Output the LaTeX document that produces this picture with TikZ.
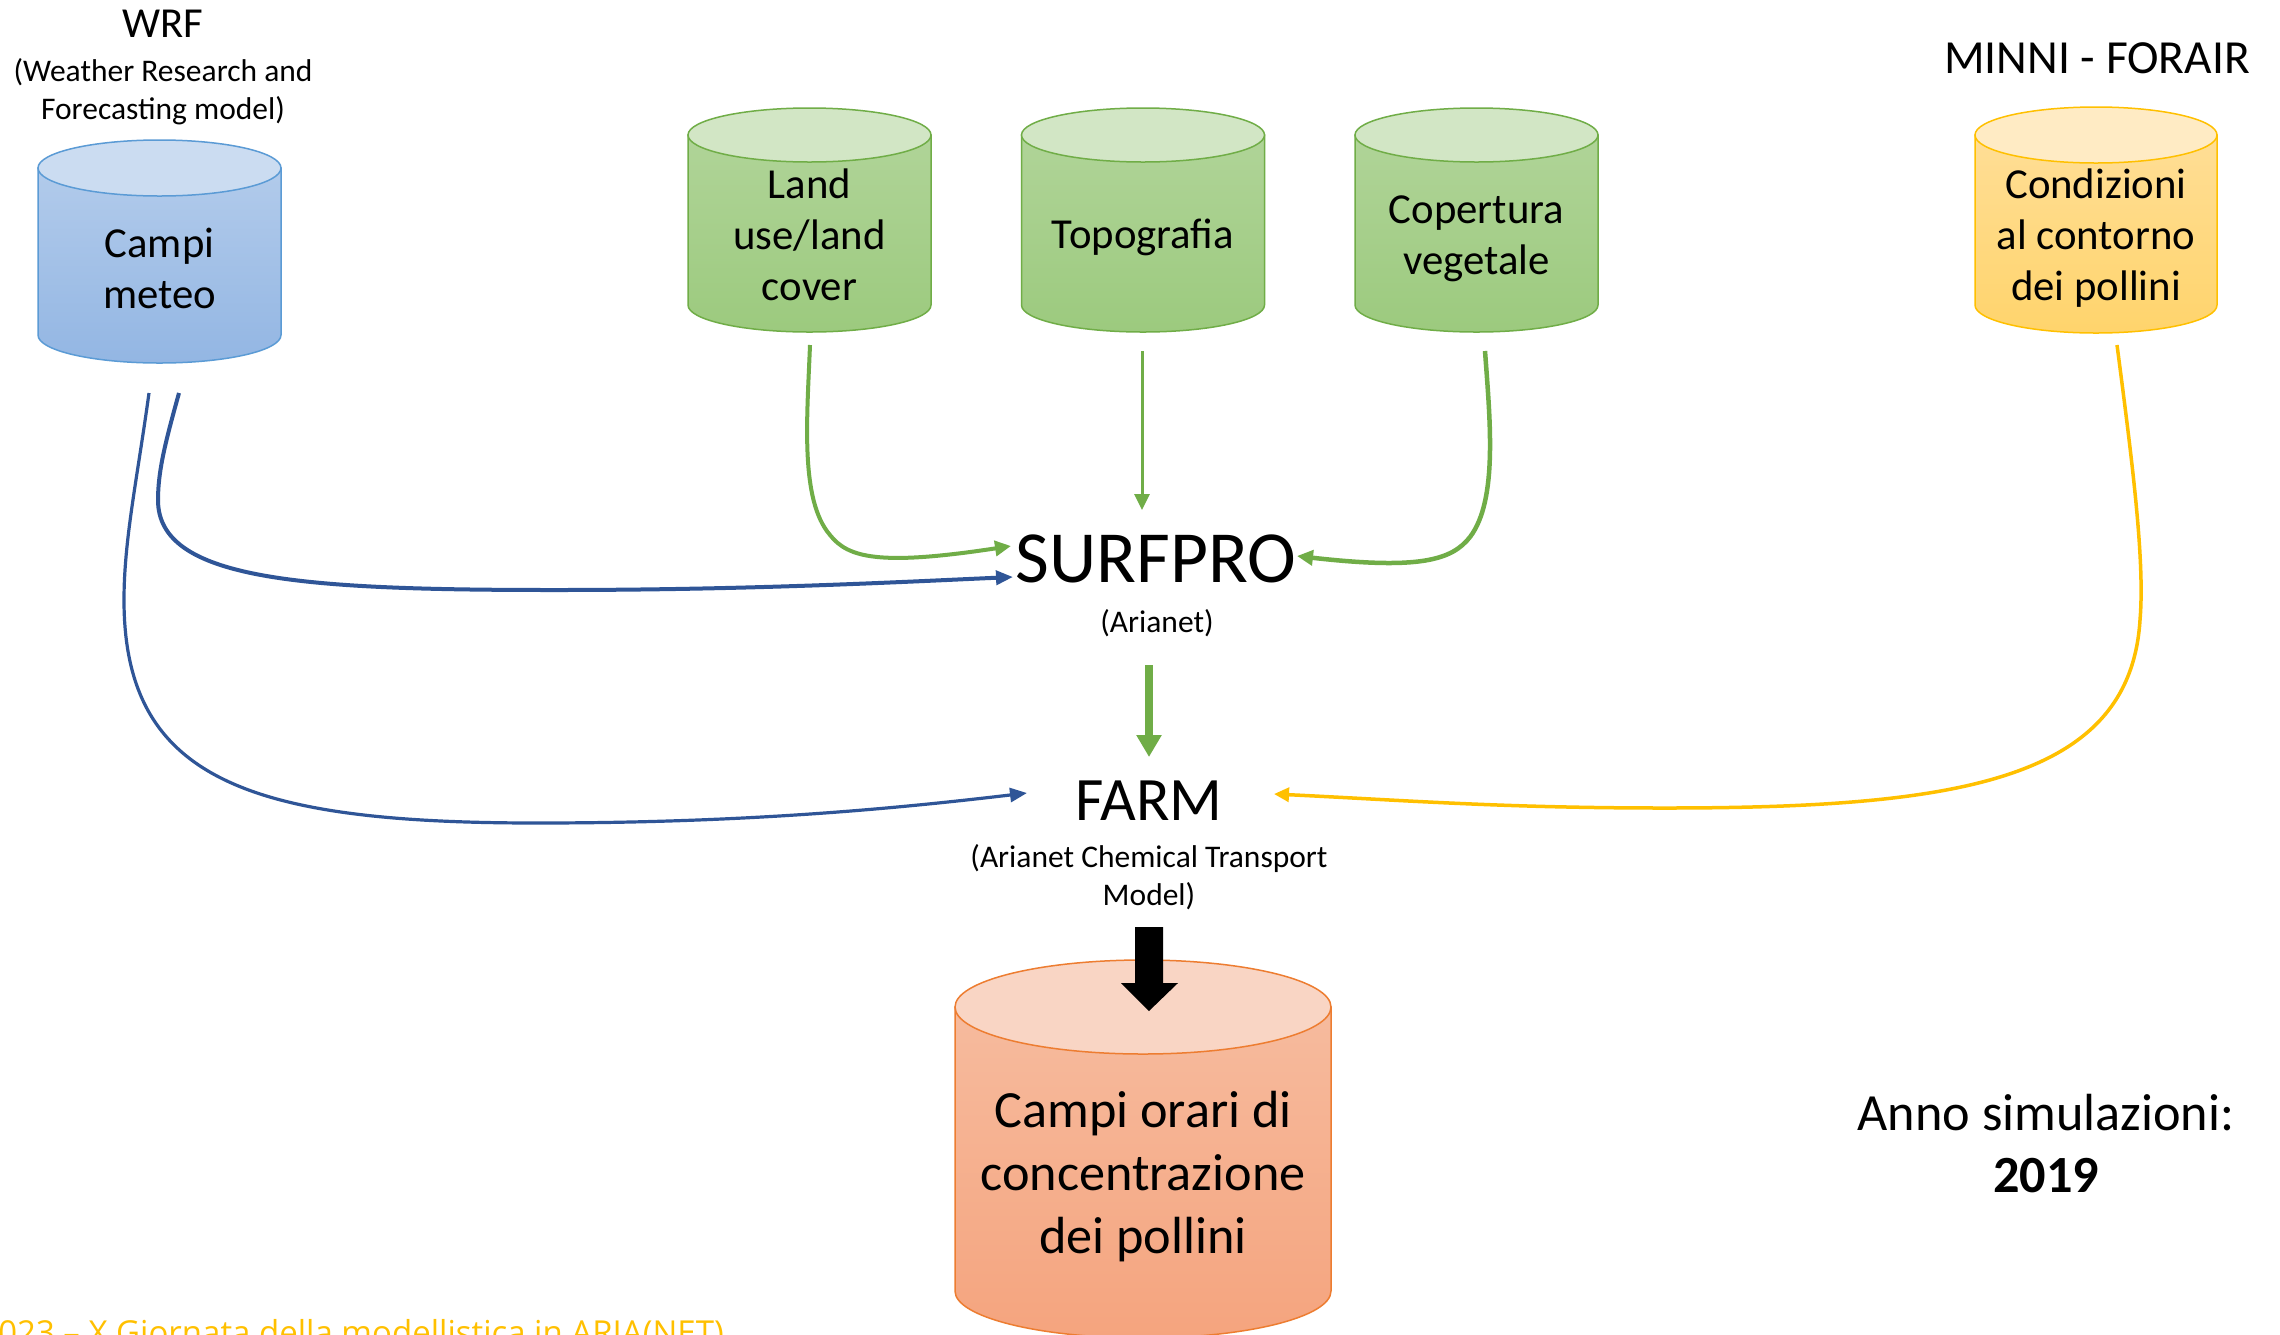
\documentclass[tikz,border=0pt]{standalone}
\usepackage{fontspec}
\setmainfont{Carlito}
\newfontfamily\footfont{Open Sans}
\usetikzlibrary{arrows.meta}
\definecolor{blutop}{HTML}{B2CBEB}
\definecolor{blubot}{HTML}{93B6E3}
\definecolor{bluend}{HTML}{CBDCF1}
\definecolor{bluline}{HTML}{5B9BD5}
\definecolor{grntop}{HTML}{B0D498}
\definecolor{grnbot}{HTML}{9CCA7E}
\definecolor{grnend}{HTML}{D2E6C5}
\definecolor{grnline}{HTML}{70AD47}
\definecolor{yeltop}{HTML}{FFDE96}
\definecolor{yelbot}{HTML}{FFD46C}
\definecolor{yelend}{HTML}{FFEBC4}
\definecolor{yelline}{HTML}{FFC000}
\definecolor{orgtop}{HTML}{F6BB9E}
\definecolor{orgbot}{HTML}{F5A47E}
\definecolor{orgend}{HTML}{F9D5C4}
\definecolor{orgline}{HTML}{ED7D31}
\definecolor{arrblue}{HTML}{2F5597}
\definecolor{arrgreen}{HTML}{70AD47}
\definecolor{arryel}{HTML}{FFC000}
\newcommand\dbcyl[6]{%
  \pgfmathsetmacro\cyL{#1-#3/2}%
  \pgfmathsetmacro\cyR{#1+#3/2}%
  \pgfmathsetmacro\cyT{#2+#5}%
  \pgfmathsetmacro\cyB{#2+#4-#5}%
  \pgfmathsetmacro\cyBB{#2+#4}%
  \pgfmathsetmacro\cyKx{0.5523*#3/2}%
  \pgfmathsetmacro\cyKy{0.5523*#5}%
  \pgfmathsetmacro\cyRx{#3/2}%
  \shade[top color=#6top, bottom color=#6bot, draw=#6line, cylline]
    (\cyL,\cyT) -- (\cyL,\cyB) .. controls (\cyL,{\cyB+\cyKy}) and ({#1-\cyKx},\cyBB) .. (#1,\cyBB)
    .. controls ({#1+\cyKx},\cyBB) and (\cyR,{\cyB+\cyKy}) .. (\cyR,\cyB) -- (\cyR,\cyT) -- cycle;
  \filldraw[fill=#6end, draw=#6line, cylline] (#1,\cyT) ellipse [x radius=\cyRx, y radius=#5];
}
\tikzset{
  cylline/.style={line width=1.5pt},
  lbl/.style={inner sep=0pt, outer sep=0pt, align=center, anchor=base},
  mainf/.style={font=\fontsize{42.75}{51}\selectfont},
  subf/.style={font=\fontsize{31.5}{37.5}\selectfont},
  bluarr/.style={draw=arrblue, -{Triangle[length=17pt,width=14pt]}},
  grnarr/.style={draw=arrgreen, -{Triangle[length=16pt,width=15pt]}},
  yelarr/.style={draw=arryel, line width=3.5pt, -{Triangle[length=15pt,width=14pt]}},
}
\begin{document}
\begin{tikzpicture}[x=1pt,y=-1pt]
\useasboundingbox (0,0) rectangle (2280,1334);
\fill[white] (0,0) rectangle (2280,1334);

% cylinders
\dbcyl{159.5}{140}{243}{223}{28}{blu}
\dbcyl{809.5}{108}{243}{224}{27}{grn}
\dbcyl{1143}{108}{243}{224}{27}{grn}
\dbcyl{1476.5}{108}{243}{224}{27}{grn}
\dbcyl{2096}{107}{242}{226}{28}{yel}
\dbcyl{1143}{960}{376}{378}{47}{org}

% labels (anchor base = baseline of the last line)
\node[lbl, font=\fontsize{42.75}{51}\selectfont] (wrf) at (163,37) {WRF};
\node[lbl, subf] (wrfsub) at (163,119) {(Weather Research and\\Forecasting model)};
\node[lbl, mainf] (meteo) at (159.5,308) {Campi\\meteo};
\node[lbl, mainf] (land) at (809.5,300) {Land\\use/land\\cover};
\node[lbl, mainf] (topo) at (1143,248) {Topografia};
\node[lbl, mainf] (cop) at (1476.5,274) {Copertura\\vegetale};
\node[lbl, font=\fontsize{47.5}{57}\selectfont] (minni) at (2097,73) {MINNI - FORAIR};
\node[lbl, mainf] (cond) at (2096,300) {Condizioni\\al contorno\\dei pollini};
\node[lbl, font=\fontsize{73.5}{88}\selectfont] (surfpro) at (1156,582) {SURFPRO};
\node[lbl, subf] (surfsub) at (1157,632) {(Arianet)};
\node[lbl, font=\fontsize{61.75}{74}\selectfont] (farm) at (1149,820) {FARM};
\node[lbl, subf] (farmsub) at (1149,905) {(Arianet Chemical Transport\\Model)};
\node[lbl, font=\fontsize{52.25}{63}\selectfont] (out) at (1143,1253) {Campi orari di\\concentrazione\\dei pollini};
\node[lbl, font=\fontsize{52.25}{62}\selectfont] (anno) at (2046,1192) {Anno simulazioni:\\\textbf{2019}};
\node[inner sep=0pt, anchor=base east, text=arryel, font=\footfont\fontsize{33}{40}\selectfont] (foot) at (724,1344) {2023 – X Giornata della modellistica in ARIA(NET)};

% connector end points
\coordinate (bS) at (179,393);
\coordinate (bF) at (149,393);
\coordinate (bSe) at (1013,577);
\coordinate (bFe) at (1027,793);
\coordinate (gL) at (810,345);
\coordinate (gLe) at (1011,546);
\coordinate (gC) at (1142,351);
\coordinate (gCe) at (1142,510);
\coordinate (gR) at (1485,351);
\coordinate (gRe) at (1297,556);
\coordinate (yC) at (2117,345);
\coordinate (yCe) at (1274,794);
\coordinate (sfA) at (1149,665);
\coordinate (sfB) at (1149,757);

% blue connectors
\draw[bluarr, line width=4pt] (bS) .. controls (166,440) and (158,470) .. (158,500)
  .. controls (158,580) and (300,590) .. (555,590)
  .. controls (750,590) and (900,582) .. (bSe);
\draw[bluarr, line width=3.2pt] (bF) .. controls (137,480) and (124,540) .. (124,600)
  .. controls (124,780) and (250,823) .. (537,823)
  .. controls (750,823) and (900,808) .. (bFe);

% green connectors
\draw[grnarr, line width=4pt] (gL) .. controls (807,420) and (800,500) .. (830,535)
  .. controls (848,558) and (880,566) .. (gLe);
\draw[grnarr, line width=3pt] (gC) -- (gCe);
\draw[grnarr, line width=4.5pt] (gR) .. controls (1490,420) and (1498,500) .. (1470,537)
  .. controls (1452,560) and (1420,570) .. (gRe);
\draw[draw=arrgreen, line width=8pt, -{Triangle[length=22pt,width=24pt]}] (sfA) -- (sfB);

% yellow connector
\draw[yelarr] (yC) .. controls (2132,460) and (2145,560) .. (2140,620)
  .. controls (2130,780) and (1960,808) .. (1665,808)
  .. controls (1500,808) and (1400,800) .. (yCe);

% black block arrow FARM -> output
\fill[black] (1135,927) -- (1163,927) -- (1163,983) -- (1178,983) -- (1149,1011) -- (1121,983) -- (1135,983) -- cycle;
\end{tikzpicture}
\end{document}
